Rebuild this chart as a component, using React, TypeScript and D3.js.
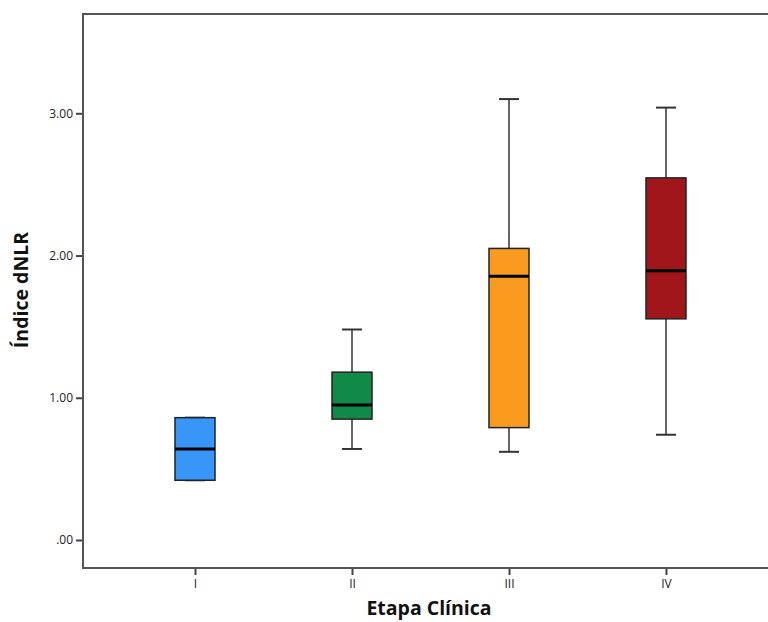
import React, { useRef, useEffect } from "react";
import * as d3 from "d3";

const stages = ["I", "II", "III", "IV"];
const whiskerLow = [0.42, 0.64, 0.62, 0.74];
const q1 = [0.42, 0.85, 0.79, 1.555];
const median = [0.64, 0.95, 1.855, 1.893];
const q3 = [0.86, 1.18, 2.05, 2.546];
const whiskerHigh = [0.86, 1.48, 3.1, 3.04];
const colors = ["#3896f9", "#128a47", "#f89b1f", "#a1161a"];
const yTicks = [0, 1, 2, 3];

const App = () => {
  const svgRef = useRef<SVGSVGElement>(null);
  const width = 768;
  const height = 622;

  useEffect(() => {
    const svg = d3.select(svgRef.current);
    svg.selectAll("*").remove();

    const left = 83;
    const right = 778;
    const top = 14;
    const bottom = 568;

    const x = d3.scalePoint().domain(stages).range([left, right]).padding(0.7134);
    const y = d3.scaleLinear().domain([0, 3]).range([540, 113.3]);

    const font = "'Open Sans', 'DejaVu Sans', sans-serif";

    // frame
    svg
      .append("path")
      .attr("d", `M${right},${top}H${left}V${bottom}H${right}`)
      .attr("fill", "none")
      .attr("stroke", "#555")
      .attr("stroke-width", 2);

    // y axis
    const yAxis = svg
      .append("g")
      .attr("transform", `translate(${left - 1},0)`)
      .call(
        d3
          .axisLeft(y)
          .tickValues(yTicks)
          .tickSize(6)
          .tickPadding(3)
          .tickFormat((d) => (d === 0 ? ".00" : d3.format(".2f")(d as number)))
      );
    yAxis.select(".domain").remove();
    yAxis.selectAll("line").attr("stroke", "#444").attr("stroke-width", 2);
    yAxis
      .selectAll("text")
      .attr("font-family", font)
      .attr("font-size", 12)
      .attr("fill", "#222");

    // x axis
    const xAxis = svg
      .append("g")
      .attr("transform", `translate(0,${bottom + 1})`)
      .call(d3.axisBottom(x).tickSize(6).tickPadding(4));
    xAxis.select(".domain").remove();
    xAxis.selectAll("line").attr("stroke", "#444").attr("stroke-width", 2);
    xAxis
      .selectAll("text")
      .attr("font-family", font)
      .attr("font-size", 12)
      .attr("fill", "#222");

    // titles
    svg
      .append("text")
      .attr("x", 429)
      .attr("y", 615)
      .attr("text-anchor", "middle")
      .attr("font-family", font)
      .attr("font-weight", "bold")
      .attr("font-size", 19.5)
      .attr("fill", "#111")
      .text("Etapa Clínica");

    svg
      .append("text")
      .attr("transform", "translate(28,290) rotate(-90)")
      .attr("text-anchor", "middle")
      .attr("font-family", font)
      .attr("font-weight", "bold")
      .attr("font-size", 19.5)
      .attr("fill", "#111")
      .text("Índice dNLR");

    const boxW = 40;
    const capW = 20;
    const g = svg.append("g");

    stages.forEach((s, i) => {
      const cx = x(s)!;
      // whiskers
      g.append("line")
        .attr("x1", cx).attr("x2", cx)
        .attr("y1", y(whiskerHigh[i])).attr("y2", y(q3[i]))
        .attr("stroke", "#333").attr("stroke-width", 1.5);
      g.append("line")
        .attr("x1", cx).attr("x2", cx)
        .attr("y1", y(q1[i])).attr("y2", y(whiskerLow[i]))
        .attr("stroke", "#333").attr("stroke-width", 1.5);
      [whiskerHigh[i], whiskerLow[i]].forEach((v) => {
        g.append("line")
          .attr("x1", cx - capW / 2).attr("x2", cx + capW / 2)
          .attr("y1", y(v)).attr("y2", y(v))
          .attr("stroke", "#333").attr("stroke-width", 2);
      });
      // box
      g.append("rect")
        .attr("x", cx - boxW / 2)
        .attr("y", y(q3[i]))
        .attr("width", boxW)
        .attr("height", y(q1[i]) - y(q3[i]))
        .attr("fill", colors[i])
        .attr("stroke", "#222")
        .attr("stroke-width", 1.5);
      g.append("line")
        .attr("x1", cx - boxW / 2).attr("x2", cx + boxW / 2)
        .attr("y1", y(median[i])).attr("y2", y(median[i]))
        .attr("stroke", "#000").attr("stroke-width", 3);
    });
  }, []);

  return (
    <svg
      ref={svgRef}
      width={width}
      height={height}
      style={{ position: "absolute", left: 0, top: 0, background: "#fff" }}
    />
  );
};

export default App;
